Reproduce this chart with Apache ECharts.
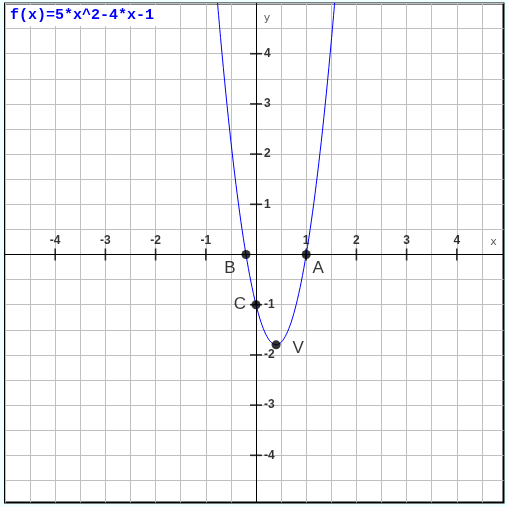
<!DOCTYPE html>
<html><head><meta charset="utf-8">
<script src="https://cdn.jsdelivr.net/npm/echarts@6/dist/echarts.min.js"></script>
<style>html,body{margin:0;padding:0;background:#f0ffff;overflow:hidden}#c{width:508px;height:507px;}</style>
</head><body><div id="c"></div>
<script>
// ---- data ----
const titleText = 'f(x)=5*x^2-4*x-1';
const curveX = [-0.8,-0.7,-0.6,-0.5,-0.4,-0.3,-0.2,-0.1,0,0.1,0.2,0.3,0.4,0.5,0.6,0.7,0.8,0.9,1.0,1.1,1.2,1.3,1.4,1.5,1.6];
const curveY = [5.4,4.25,3.2,2.25,1.4,0.65,0,-0.55,-1,-1.35,-1.6,-1.75,-1.8,-1.75,-1.6,-1.35,-1,-0.55,0,0.65,1.4,2.25,3.2,4.25,5.4];
const pointNames = ['A','B','C','V'];
const pointX = [1, -0.2, 0, 0.4];
const pointY = [0, 0, -1, -1.8];
const xTickLabels = [-4,-3,-2,-1,1,2,3,4];
const yTickLabels = [-4,-3,-2,-1,1,2,3,4];
const xRange = [-5, 4.93];
const yRange = [-4.94, 5];
const gridStep = 0.5;
const axisNames = ['x','y'];
const axisNameX = [4.73, 0.22];
const axisNameY = [0.24, 4.70];

// ---- styles ----
const pointLabelOffsets = [[12,14],[-16,14],[-16,0],[22,3]];
function gridValues(r){ const a=[]; for(let k=Math.ceil(r[0]/gridStep);k<=Math.floor(r[1]/gridStep);k++){a.push(+(k*gridStep).toFixed(3));} return a; }
const labelFont = {fontFamily:'Liberation Sans', fontWeight:'bold', fontSize:12, color:'#000'};

const chart = echarts.init(document.getElementById('c'), null, {renderer:'canvas'});
const axisBase = (range) => ({type:'value', min:range[0], max:range[1], scale:false});
const tickMarks = xTickLabels.map(v=>({value:[v,0], symbolSize:[1.6,12]}))
  .concat(yTickLabels.map(v=>({value:[0,v], symbolSize:[12,1.6]})));
chart.setOption({
  animation:false,
  backgroundColor:'#f0ffff',
  title:{text:titleText, left:6, top:5, backgroundColor:'#fff', padding:[3,4,3,4],
    textStyle:{fontFamily:'Liberation Mono', fontWeight:'bold', fontSize:15, color:'#0000ff'}},
  grid:{left:5, top:3.5, width:498.5, height:499, show:true, backgroundColor:'#fff', borderColor:'#000', borderWidth:2, outerBoundsMode:'none', containLabel:false},
  xAxis:[
    Object.assign(axisBase(xRange), {position:'bottom', z:3, axisLine:{show:true, onZero:true, lineStyle:{color:'#000', width:1}},
      axisTick:{show:false}, axisLabel:{show:false}, splitLine:{show:false}}),
    Object.assign(axisBase(xRange), {position:'top', z:0, axisLine:{show:false, onZero:false},
      axisTick:{show:false, customValues:gridValues(xRange)}, axisLabel:{show:false}, splitLine:{show:true, lineStyle:{color:'#c0c0c0', width:1}}})
  ],
  yAxis:[
    Object.assign(axisBase(yRange), {position:'left', z:3, axisLine:{show:true, onZero:true, lineStyle:{color:'#000', width:1}},
      axisTick:{show:false}, axisLabel:{show:false}, splitLine:{show:false}}),
    Object.assign(axisBase(yRange), {position:'right', z:0, axisLine:{show:false, onZero:false},
      axisTick:{show:false, customValues:gridValues(yRange)}, axisLabel:{show:false}, splitLine:{show:true, lineStyle:{color:'#c0c0c0', width:1}}})
  ],
  series:[
    {type:'scatter', xAxisIndex:0, yAxisIndex:0, symbol:'rect', itemStyle:{color:'#000'}, z:4, silent:true, data:tickMarks},
    {type:'scatter', xAxisIndex:0, yAxisIndex:0, symbolSize:0, z:4, silent:true,
      data:xTickLabels.map(v=>({value:[v,0], label:Object.assign({show:true, position:'top', distance:8, formatter:String(v)}, labelFont)}))},
    {type:'scatter', xAxisIndex:0, yAxisIndex:0, symbolSize:0, z:4, silent:true,
      data:yTickLabels.map(v=>({value:[0,v], label:Object.assign({show:true, position:'right', distance:8, formatter:String(v)}, labelFont)}))},
    {type:'line', xAxisIndex:0, yAxisIndex:0, data:curveX.map((x,i)=>[x,curveY[i]]), smooth:0.3, showSymbol:false, clip:true,
      lineStyle:{color:'#0000ff', width:1}, z:5},
    {type:'scatter', xAxisIndex:0, yAxisIndex:0, symbolSize:9, itemStyle:{color:'#000'}, z:6,
      data:pointNames.map((n,i)=>({name:n, value:[pointX[i], pointY[i]],
        label:{show:true, position:'inside', offset:pointLabelOffsets[i], formatter:n, fontFamily:'Liberation Sans', fontSize:17, color:'#000'}}))},
    {type:'scatter', xAxisIndex:0, yAxisIndex:0, symbolSize:0, z:6,
      data:axisNames.map((n,i)=>({name:n, value:[axisNameX[i], axisNameY[i]],
        label:{show:true, position:'inside', formatter:n, fontFamily:'DejaVu Sans', fontSize:11, color:'#333'}}))}
  ]
});
</script></body></html>
